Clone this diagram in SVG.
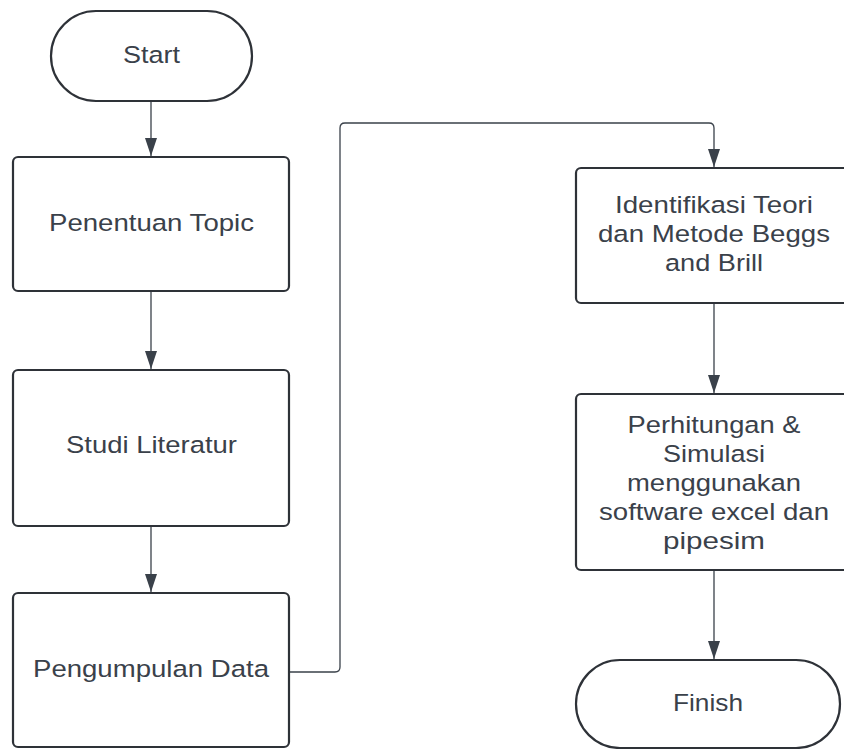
<svg xmlns="http://www.w3.org/2000/svg" width="844" height="749" viewBox="0 0 844 749">
  <defs>
    <!-- filled triangular arrowhead, tip at the path end -->
    <marker id="arrow" viewBox="0 0 18 12" refX="18" refY="6" markerWidth="18" markerHeight="12" markerUnits="userSpaceOnUse" orient="auto">
      <path d="M0,0 L18,6 L0,12 Z" fill="#3a414a"/>
    </marker>
    <style>
      .shape { fill: #ffffff; stroke: #2e3238; stroke-width: 2.2; }
      .label { font-family: "Liberation Sans", Arial, sans-serif; font-size: 24.5px; fill: #3a414a; text-anchor: middle; }
      .edge { fill: none; stroke: #3a414a; stroke-width: 1.3; }
    </style>
  </defs>
  <rect width="844" height="749" fill="#ffffff"/>

  <g id="connectors">
    <path class="edge" d="M151,101 V156" marker-end="url(#arrow)"/>
    <path class="edge" d="M151,291 V369" marker-end="url(#arrow)"/>
    <path class="edge" d="M151,526 V592" marker-end="url(#arrow)"/>
    <path class="edge" d="M289,672 H335 Q340,672 340,667 V128 Q340,123 345,123 H709 Q714,123 714,128 V167" marker-end="url(#arrow)"/>
    <path class="edge" d="M714,303 V393" marker-end="url(#arrow)"/>
    <path class="edge" d="M714,570 V659" marker-end="url(#arrow)"/>
  </g>

  <g id="start">
    <rect class="shape" x="51" y="11" width="201" height="90" rx="45" ry="45"/>
    <text class="label" x="151.5" y="63" textLength="57" lengthAdjust="spacingAndGlyphs">Start</text>
  </g>

  <g id="penentuan-topic">
    <rect class="shape" x="13" y="157" width="276" height="134" rx="5" ry="5"/>
    <text class="label" x="151.5" y="231" textLength="205" lengthAdjust="spacingAndGlyphs">Penentuan Topic</text>
  </g>

  <g id="studi-literatur">
    <rect class="shape" x="13" y="370" width="276" height="156" rx="5" ry="5"/>
    <text class="label" x="151.5" y="453" textLength="171" lengthAdjust="spacingAndGlyphs">Studi Literatur</text>
  </g>

  <g id="pengumpulan-data">
    <rect class="shape" x="13" y="593" width="276" height="154" rx="5" ry="5"/>
    <text class="label" x="151" y="677" textLength="236" lengthAdjust="spacingAndGlyphs">Pengumpulan Data</text>
  </g>

  <g id="identifikasi">
    <rect class="shape" x="576" y="168" width="276" height="135" rx="5" ry="5"/>
    <text class="label" x="714" y="213" textLength="198" lengthAdjust="spacingAndGlyphs">Identifikasi Teori</text>
    <text class="label" x="714" y="242" textLength="232" lengthAdjust="spacingAndGlyphs">dan Metode Beggs</text>
    <text class="label" x="714" y="271" textLength="98" lengthAdjust="spacingAndGlyphs">and Brill</text>
  </g>

  <g id="perhitungan">
    <rect class="shape" x="576" y="394" width="276" height="176" rx="5" ry="5"/>
    <text class="label" x="714" y="433" textLength="173" lengthAdjust="spacingAndGlyphs">Perhitungan &amp;</text>
    <text class="label" x="714" y="462" textLength="102" lengthAdjust="spacingAndGlyphs">Simulasi</text>
    <text class="label" x="714" y="491" textLength="174" lengthAdjust="spacingAndGlyphs">menggunakan</text>
    <text class="label" x="714" y="520" textLength="230" lengthAdjust="spacingAndGlyphs">software excel dan</text>
    <text class="label" x="714" y="549" textLength="102" lengthAdjust="spacingAndGlyphs">pipesim</text>
  </g>

  <g id="finish">
    <rect class="shape" x="576" y="660" width="264" height="88" rx="44" ry="44"/>
    <text class="label" x="708" y="711" textLength="70" lengthAdjust="spacingAndGlyphs">Finish</text>
  </g>
</svg>
